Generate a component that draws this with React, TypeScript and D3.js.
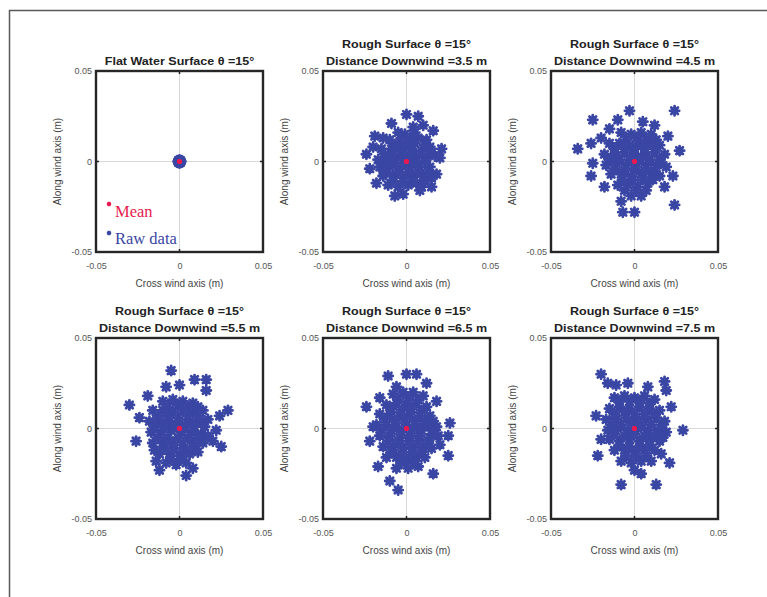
import { useEffect, useRef } from "react";
import * as d3 from "d3";

// displacement samples in millimetres (axes are in metres)
const titles1 = ["Flat Water Surface \u03b8 =15\u00b0", "Rough Surface \u03b8 =15\u00b0", "Rough Surface \u03b8 =15\u00b0", "Rough Surface \u03b8 =15\u00b0", "Rough Surface \u03b8 =15\u00b0", "Rough Surface \u03b8 =15\u00b0"];
const titles2 = ["", "Distance Downwind =3.5 m", "Distance Downwind =4.5 m", "Distance Downwind =5.5 m", "Distance Downwind =6.5 m", "Distance Downwind =7.5 m"];
const tickValues = [-0.05, 0, 0.05];
const tickLabels = ["-0.05", "0", "0.05"];

const flat: number[][] = [
  [0, 0], [1, 1], [-1, 1], [1, -1], [-1, -1], [1.5, 0], [-1.5, 0], [0, 1.5], [0, -1.5],
];

const d35: number[][] = [
  [0, 26], [7, 25], [-9, 21], [4, 19], [-19, 14], [-14, 13], [16, 17], [12, 12], [21, 7], [-24, 4],
  [-22, -4], [18, -7], [15, -14], [-7, -19], [-18, -12], [-2, -18], [8, -16], [20, 2], [-20, 8], [10, 20], [-5, 16],
  [-10, 12], [-4, 11], [2, 12], [7, 13],
  [-15, 7], [-9, 7], [-3, 6], [3, 7], [9, 6], [14, 8],
  [-17, 1], [-11, 2], [-5, 2], [1, 1], [6, 2], [12, 2], [17, 3],
  [-16, -3], [-10, -3], [-4, -4], [2, -3], [8, -3], [14, -3],
  [-14, -8], [-8, -8], [-2, -9], [4, -8], [10, -8], [15, -9],
  [-11, -13], [-5, -14], [1, -13], [6, -12], [11, -11],
  [-7, 9], [-1, 9], [5, 10], [11, 9], [-13, 4], [-8, 4], [-2, 4], [4, 4], [9, 4], [15, 5],
  [-13, -1], [-7, -1], [-1, -1], [5, -1], [11, 0], [-12, -6], [-5, -6], [1, -6], [7, -6], [13, -6],
  [-8, -11], [-2, -11], [4, -11], [9, -14], [-1, 15], [5, 16], [-14, -5],
];

const d45: number[][] = [
  [24, 28], [-25, 23], [-34, 7], [-26, 10], [-20, 13], [-10, 23], [-3, 28], [27, 6], [23, -8], [24, -24],
  [0, -28], [-7, -28], [-8, -22], [-18, -14], [-26, -8], [-25, -1], [12, 20], [18, -14], [16, -1], [5, 22], [-15, 18], [20, 14],
  [-8, 16], [-2, 15], [4, 16], [10, 15],
  [-15, 10], [-9, 10], [-3, 9], [3, 10], [9, 10], [15, 9],
  [-18, 4], [-12, 4], [-6, 5], [0, 4], [6, 4], [12, 5], [18, 4],
  [-17, -2], [-11, -1], [-5, -2], [1, -1], [7, -2], [13, -2], [19, -3],
  [-14, -7], [-8, -7], [-2, -8], [4, -7], [10, -7], [15, -8],
  [-10, -13], [-4, -13], [2, -14], [8, -12], [-2, -19], [4, -19],
  [-5, 12], [1, 13], [7, 12], [13, 12], [-12, 7], [-6, 7], [0, 7], [6, 7], [12, 7],
  [-15, 1], [-9, 1], [-3, 1], [3, 1], [9, 1], [15, 1], [-12, -4], [-6, -5], [0, -4], [6, -5], [12, -5],
  [-7, -10], [-1, -10], [5, -10], [11, -10], [-6, -16], [1, -16], [7, -16],
];

const d55: number[][] = [
  [-5, 32], [9, 27], [16, 27], [16, 21], [-30, 13], [-19, 18], [-8, 23], [29, 10], [24, 7], [-26, -7],
  [20, -7], [25, -10], [-12, -23], [4, -26], [8, -22], [22, -1], [-24, 6], [0, 24], [-14, -18],
  [-10, 15], [-4, 16], [2, 15], [8, 14],
  [-16, 10], [-10, 10], [-4, 9], [2, 10], [8, 9], [14, 10],
  [-18, 4], [-12, 4], [-6, 4], [0, 3], [6, 4], [12, 4], [17, 5],
  [-17, -2], [-11, -2], [-5, -1], [1, -2], [7, -2], [13, -3],
  [-16, -8], [-10, -8], [-4, -8], [2, -9], [8, -8], [14, -8],
  [-12, -14], [-6, -14], [0, -15], [6, -14], [11, -13],
  [-8, -19], [-2, -20], [4, -19],
  [-7, 12], [-1, 13], [5, 12], [11, 12], [-13, 7], [-7, 7], [-1, 6], [5, 7], [11, 7],
  [-15, 1], [-9, 1], [-3, 1], [3, 1], [9, 1], [15, 1], [-13, -5], [-7, -5], [-1, -5], [5, -5], [11, -5],
  [-9, -11], [-3, -11], [3, -12], [9, -11], [-5, -17], [1, -17], [-15, -12], [17, -4],
];

const d65: number[][] = [
  [-11, 29], [0, 30], [6, 30], [-6, 23], [-24, 12], [26, 3], [25, -4], [25, -15], [16, -25], [-5, -34],
  [-10, -29], [-17, -21], [-22, -7], [12, 25], [-20, 1], [18, 15], [-16, 17], [20, -9],
  [-8, 19], [-2, 20], [4, 20], [10, 18],
  [-12, 13], [-6, 14], [0, 13], [6, 14], [12, 12],
  [-16, 8], [-10, 8], [-4, 7], [2, 8], [8, 7], [14, 7],
  [-18, 2], [-12, 2], [-6, 1], [0, 2], [6, 1], [12, 2], [18, 1],
  [-16, -4], [-10, -4], [-4, -5], [2, -4], [8, -4], [14, -5], [19, -4],
  [-14, -10], [-8, -10], [-2, -11], [4, -10], [10, -10], [15, -11],
  [-12, -16], [-6, -16], [0, -17], [6, -16], [11, -16],
  [-6, -22], [1, -22], [7, -21],
  [-5, 16], [1, 17], [7, 16], [-9, 11], [-3, 10], [3, 11], [9, 10], [-13, 5], [-7, 4], [-1, 5], [5, 4], [11, 4], [16, 4],
  [-15, -1], [-9, -1], [-3, -2], [3, -1], [9, -1], [15, -1], [-11, -7], [-5, -8], [1, -7], [7, -7], [13, -8],
  [-9, -13], [-3, -14], [3, -13], [9, -13], [-3, -19], [4, -19],
];

const d75: number[][] = [
  [-20, 30], [-16, 25], [-11, 24], [18, 26], [19, 21], [22, 12], [29, -1], [-23, 7], [-22, -15], [-8, -31],
  [13, -31], [4, -25], [21, -19], [-20, -6], [8, 23], [-4, 25], [16, -14],
  [-12, 17], [-6, 18], [0, 17], [6, 18], [12, 16],
  [-15, 11], [-9, 12], [-3, 11], [3, 12], [9, 11], [15, 10],
  [-17, 5], [-11, 5], [-5, 6], [1, 5], [7, 5], [13, 6], [18, 4],
  [-16, -1], [-10, 0], [-4, -1], [2, 0], [8, -1], [14, -1], [19, -2],
  [-15, -6], [-9, -7], [-3, -6], [3, -7], [9, -6], [15, -7],
  [-12, -12], [-6, -12], [0, -13], [6, -12], [12, -12],
  [-8, -18], [-2, -19], [4, -18], [10, -18], [0, -23],
  [-9, 15], [-3, 15], [3, 15], [9, 14], [-12, 8], [-6, 9], [0, 8], [6, 8], [12, 8],
  [-14, 2], [-8, 2], [-2, 3], [4, 2], [10, 2], [16, 2], [-12, -3], [-6, -4], [0, -3], [6, -4], [12, -4], [17, -5],
  [-9, -9], [-3, -10], [3, -10], [9, -9], [-5, -15], [1, -16], [7, -15],
];

const series = [flat, d35, d45, d55, d65, d75];

const BLUE = "#3a46a3";
const RED = "#e61a50";
const SANS = "Liberation Sans, Arial, sans-serif";
const W = 167;
const H = 181;
const colLeft = [96, 323, 551];
const rowTop = [71, 338];

const star = (r: number) => {
  const k = r * 0.72;
  return `M${-r},0L${r},0M0,${-r}L0,${r}M${-k},${-k}L${k},${k}M${-k},${k}L${k},${-k}`;
};

function Panel({ idx }: { idx: number }) {
  const gx = useRef<SVGGElement>(null);
  const gy = useRef<SVGGElement>(null);
  const left = colLeft[idx % 3];
  const top = rowTop[Math.floor(idx / 3)];
  const x = d3.scaleLinear().domain([-0.05, 0.05]).range([0, W]);
  const y = d3.scaleLinear().domain([-0.05, 0.05]).range([H, 0]);
  const pts = series[idx].map((p) => [p[0] / 1000, p[1] / 1000]);

  useEffect(() => {
    const fmt = (d: d3.NumberValue) => tickLabels[tickValues.indexOf(+d)];
    const ax = d3.select(gx.current!);
    ax.selectAll("*").remove();
    ax.call(d3.axisBottom(x).tickValues(tickValues).tickSize(0).tickPadding(11).tickFormat(fmt));
    ax.select(".domain").remove();
    ax.selectAll("text").attr("fill", "#555").attr("font-size", 9).attr("font-family", SANS);
    const ay = d3.select(gy.current!);
    ay.selectAll("*").remove();
    ay.call(d3.axisLeft(y).tickValues(tickValues).tickSize(0).tickPadding(4).tickFormat(fmt));
    ay.select(".domain").remove();
    ay.selectAll("text").attr("fill", "#555").attr("font-size", 9).attr("font-family", SANS);
  }, [idx]);

  const two = titles2[idx] !== "";
  return (
    <g transform={`translate(${left},${top})`}>
      <rect x={0} y={0} width={W} height={H} fill="#fff" />
      <line x1={x(0)} x2={x(0)} y1={0} y2={H} stroke="#d8d8d8" strokeWidth={1} />
      <line x1={0} x2={W} y1={y(0)} y2={y(0)} stroke="#d8d8d8" strokeWidth={1} />
      <line x1={x(0)} x2={x(0)} y1={0} y2={3} stroke="#222" strokeWidth={1.5} />
      <line x1={x(0)} x2={x(0)} y1={H - 3} y2={H} stroke="#222" strokeWidth={1.5} />
      <line x1={0} x2={3} y1={y(0)} y2={y(0)} stroke="#222" strokeWidth={1.5} />
      <line x1={W - 3} x2={W} y1={y(0)} y2={y(0)} stroke="#222" strokeWidth={1.5} />
      {pts.map((p, i) => (
        <path key={i} d={star(idx === 0 ? 3.5 : 4.6)} transform={`translate(${x(p[0])},${y(p[1])})`}
          stroke={BLUE} strokeWidth={2.8} strokeLinecap="round" fill="none" />
      ))}
      <path d={star(2.6)} transform={`translate(${x(0)},${y(0)})`} stroke={RED} strokeWidth={1.8} fill="none" />
      <rect x={0} y={0} width={W} height={H} fill="none" stroke="#262626" strokeWidth={2.4} />
      <g ref={gx} transform={`translate(0,${H})`} />
      <g ref={gy} />
      <g fontFamily={SANS} fill="#222" fontWeight="bold" fontSize={11} textAnchor="middle">
        {two ? (
          <>
            <text transform={`translate(${W / 2},-23) scale(1.14,1)`}>{titles1[idx]}</text>
            <text transform={`translate(${W / 2},-6) scale(1.14,1)`}>{titles2[idx]}</text>
          </>
        ) : (
          <text transform={`translate(${W / 2},-6) scale(1.14,1)`}>{titles1[idx]}</text>
        )}
      </g>
      <text x={W / 2} y={H + 35} textAnchor="middle" fontSize={10} fill="#444" fontFamily={SANS}>
        Cross wind axis (m)
      </text>
      <text transform={`translate(-38,${H / 2}) rotate(-90)`} textAnchor="middle" dominantBaseline="middle" fontSize={10} fill="#444" fontFamily={SANS}>
        Along wind axis (m)
      </text>
      {idx === 0 && (
        <g fontFamily="Liberation Serif, Times New Roman, serif" fontSize={16.5}>
          <path d={star(2.2)} transform="translate(13,133)" stroke={RED} strokeWidth={1.6} fill="none" />
          <text x={19} y={146} fill={RED}>Mean</text>
          <path d={star(2.2)} transform="translate(13,162)" stroke={BLUE} strokeWidth={1.6} fill="none" />
          <text x={19} y={173} fill={BLUE}>Raw data</text>
        </g>
      )}
    </g>
  );
}

export default function App() {
  return (
    <svg width={767} height={597} style={{ position: "absolute", left: 0, top: 0, background: "#fff" }}>
      <rect x={9.5} y={10.5} width={800} height={700} fill="none" stroke="#5a5a5a" strokeWidth={1.5} />
      {d3.range(6).map((i) => (
        <Panel key={i} idx={i} />
      ))}
    </svg>
  );
}
